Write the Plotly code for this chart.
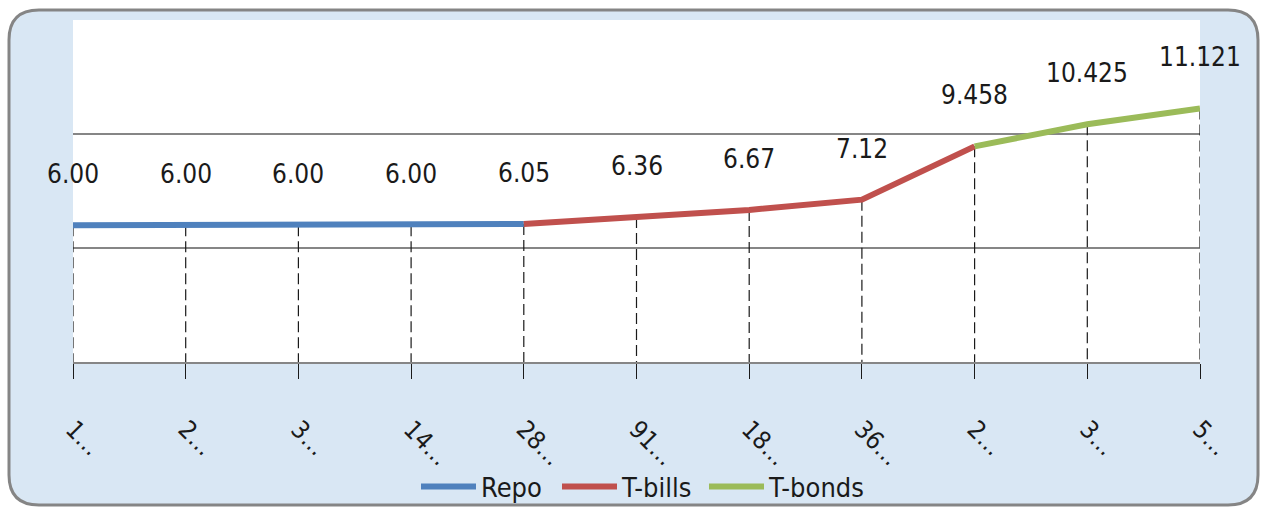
import plotly.graph_objects as go

# Yield-curve data: tenor labels (as displayed, truncated) and rates in %
tenor_labels = ["1…", "2…", "3…", "14…", "28…", "91…", "18…", "36…", "2…", "3…", "5…"]
rates = [6.00, 6.00, 6.00, 6.00, 6.05, 6.36, 6.67, 7.12, 9.458, 10.425, 11.121]
label_decimals = [2, 2, 2, 2, 2, 2, 2, 2, 3, 3, 3]

# Which tenors belong to each segment of the curve
repo_idx = [0, 1, 2, 3, 4]
tbill_idx = [4, 5, 6, 7, 8]
tbond_idx = [8, 9, 10]

W, H = 1266, 509
ML, MR, MT, MB = 73, 66, 20, 147
PW, PH = W - ML - MR, H - MT - MB

FONT = "DejaVu Sans Condensed, Liberation Sans Narrow, sans-serif"


def px(x):
    return (x - ML) / PW


def py(y):
    return (H - MB - y) / PH


fig = go.Figure()

# Dashed drop lines from each point to the axis
drop_x, drop_y = [], []
for i, v in enumerate(rates):
    drop_x += [i, i, None]
    drop_y += [v, 0, None]
fig.add_trace(go.Scatter(
    x=drop_x, y=drop_y, mode="lines", showlegend=False, hoverinfo="skip",
    line=dict(color="#1a1a1a", width=1.2, dash="11px,5px"), cliponaxis=False,
))

# One legend per series so each entry sits at its own spot along the bottom
series = [
    ("Repo", repo_idx, "#4f81bd", "legend", 416),
    ("T-bills", tbill_idx, "#c0504d", "legend2", 557),
    ("T-bonds", tbond_idx, "#9bbb59", "legend3", 704),
]
legend_cfg = {}
for name, idx, color, leg, lx in series:
    fig.add_trace(go.Scatter(
        x=idx, y=[rates[i] for i in idx], mode="lines", name=name, legend=leg,
        line=dict(color=color, width=6), cliponaxis=False,
    ))
    legend_cfg[leg] = dict(
        orientation="h", x=px(lx), xanchor="left", y=py(487), yanchor="middle",
        bgcolor="rgba(0,0,0,0)", font=dict(family=FONT, size=27, color="#1a1a1a"),
        itemwidth=55,
    )

# Value labels above each point
for i, (v, d) in enumerate(zip(rates, label_decimals)):
    fig.add_annotation(
        x=i, y=v, text=f"{v:.{d}f}", showarrow=False, yshift=51,
        font=dict(family=FONT, size=26, color="#1a1a1a"),
    )

# Rounded chart frame with a light blue fill, and the white plot area
L, R, T, B, r = 9, 1258, 10, 505, 30
frame = (
    f"M {px(L + r)} {py(T)} L {px(R - r)} {py(T)} Q {px(R)} {py(T)} {px(R)} {py(T + r)} "
    f"L {px(R)} {py(B - r)} Q {px(R)} {py(B)} {px(R - r)} {py(B)} "
    f"L {px(L + r)} {py(B)} Q {px(L)} {py(B)} {px(L)} {py(B - r)} "
    f"L {px(L)} {py(T + r)} Q {px(L)} {py(T)} {px(L + r)} {py(T)} Z"
)
fig.add_shape(type="path", path=frame, xref="paper", yref="paper", layer="below",
              fillcolor="#d9e7f4", line=dict(color="#858585", width=3))
fig.add_shape(type="rect", x0=0, x1=1, y0=0, y1=1, xref="paper", yref="paper",
              layer="below", fillcolor="white", line=dict(width=0))

fig.update_layout(
    width=W, height=H,
    margin=dict(l=ML, r=MR, t=MT, b=MB, pad=0, autoexpand=False),
    paper_bgcolor="white", plot_bgcolor="rgba(0,0,0,0)",
    font=dict(family=FONT, size=26, color="#1a1a1a"),
    showlegend=True,
    **legend_cfg,
    xaxis=dict(
        range=[0, 10], tickmode="array", tickvals=list(range(len(tenor_labels))),
        ticktext=tenor_labels, tickangle=45, ticks="outside", ticklen=15,
        tickcolor="#1a1a1a", tickwidth=1, showgrid=False, zeroline=False,
        showline=True, linecolor="#868686", linewidth=1.5, automargin=False,
        tickfont=dict(family=FONT, size=25, color="#1a1a1a"), ticklabelstandoff=26,
        fixedrange=True,
    ),
    yaxis=dict(
        range=[0, 15], tickvals=[0, 5, 10, 15], showticklabels=False, ticks="",
        showgrid=True, gridcolor="#868686", gridwidth=1.5, zeroline=False,
        showline=False, fixedrange=True, automargin=False,
    ),
)

fig.write_html("out.html")
